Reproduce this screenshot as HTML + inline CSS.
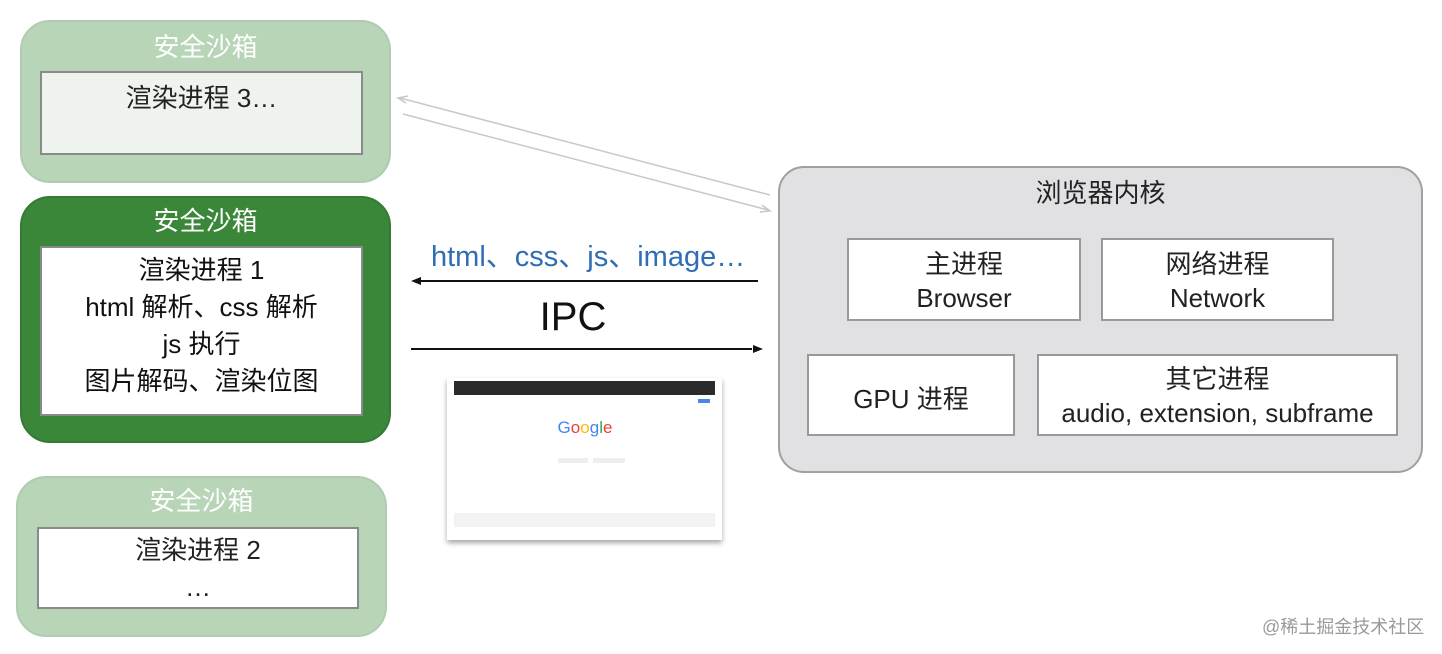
<!DOCTYPE html>
<html><head><meta charset="utf-8"><style>
body{margin:0;width:1442px;height:654px;background:#fff;position:relative;overflow:hidden;font-family:"Liberation Sans","Noto Sans CJK SC",sans-serif;}
.a{position:absolute;box-sizing:border-box;}
.t{position:absolute;text-align:center;white-space:nowrap;}
.in{background:#fff;border:2px solid #8a8a8a;}
</style></head><body>
<!-- box 3 -->
<div class="a" style="left:20px;top:20px;width:371px;height:163px;background:#b8d5b8;border-radius:30px;border:2px solid #b0ccb0"></div>
<div class="t" style="left:20px;width:371px;top:27px;font-size:26px;color:#fff">安全沙箱</div>
<div class="a in" style="left:40px;top:71px;width:323px;height:84px;background:#eef3ee"></div>
<div class="t" style="left:40px;width:323px;top:78px;font-size:26px;color:#222">渲染进程 3…</div>
<!-- box 1 -->
<div class="a" style="left:20px;top:196px;width:371px;height:247px;background:#3b873a;border-radius:30px;border:2px solid #357a34"></div>
<div class="t" style="left:20px;width:371px;top:201px;font-size:26px;color:#fff">安全沙箱</div>
<div class="a in" style="left:40px;top:246px;width:323px;height:170px"></div>
<div class="t" style="left:40px;width:323px;top:252px;font-size:26px;color:#111;line-height:37px">渲染进程 1<br>html 解析、css 解析<br>js 执行<br>图片解码、渲染位图</div>
<!-- box 2 -->
<div class="a" style="left:16px;top:476px;width:371px;height:161px;background:#b8d5b8;border-radius:30px;border:2px solid #b0ccb0"></div>
<div class="t" style="left:16px;width:371px;top:481px;font-size:26px;color:#fff">安全沙箱</div>
<div class="a in" style="left:37px;top:527px;width:322px;height:82px"></div>
<div class="t" style="left:37px;width:322px;top:532px;font-size:26px;color:#222;line-height:37px">渲染进程 2<br>…</div>
<!-- right -->
<div class="a" style="left:778px;top:166px;width:645px;height:307px;background:#e1e1e3;border:2px solid #a0a0a0;border-radius:26px"></div>
<div class="t" style="left:778px;width:645px;top:173px;font-size:26px;color:#222">浏览器内核</div>
<div class="a in" style="left:847px;top:238px;width:234px;height:83px;border-color:#999"></div>
<div class="t" style="left:847px;width:234px;top:247px;font-size:26px;line-height:34px;color:#222">主进程<br>Browser</div>
<div class="a in" style="left:1101px;top:238px;width:233px;height:83px;border-color:#999"></div>
<div class="t" style="left:1101px;width:233px;top:247px;font-size:26px;line-height:34px;color:#222">网络进程<br>Network</div>
<div class="a in" style="left:807px;top:354px;width:208px;height:82px;border-color:#999"></div>
<div class="t" style="left:807px;width:208px;top:379px;font-size:26px;color:#222">GPU 进程</div>
<div class="a in" style="left:1037px;top:354px;width:361px;height:82px;border-color:#999"></div>
<div class="t" style="left:1037px;width:361px;top:362px;font-size:26px;line-height:34px;color:#222">其它进程<br>audio, extension, subframe</div>
<!-- labels -->
<div class="t" style="left:431px;top:233px;font-size:29px;color:#2f6db5">html、css、js、image…</div>
<div class="t" style="left:513px;width:120px;top:295px;font-size:40px;color:#111">IPC</div>
<svg class="a" style="left:0;top:0" width="1442" height="654">
<line x1="770" y1="195" x2="400" y2="98" stroke="#c8c8c8" stroke-width="1.5"/>
<polyline points="408,96 398,98 406,103" fill="none" stroke="#c8c8c8" stroke-width="1.5"/>
<line x1="403" y1="114" x2="768" y2="210" stroke="#c8c8c8" stroke-width="1.5"/>
<polyline points="760,212 770,211 762,205" fill="none" stroke="#c8c8c8" stroke-width="1.5"/>
<line x1="420" y1="281" x2="758" y2="281" stroke="#111" stroke-width="2"/>
<polygon points="411,281 421,277 421,285" fill="#111"/>
<line x1="411" y1="349" x2="752" y2="349" stroke="#111" stroke-width="2"/>
<polygon points="763,349 753,345 753,353" fill="#111"/>
</svg>
<!-- screenshot -->
<div class="a" style="left:447px;top:378px;width:275px;height:162px;background:#fff;box-shadow:0 3px 5px rgba(0,0,0,0.35)"></div>
<div class="a" style="left:454px;top:381px;width:261px;height:14px;background:#2b2b2b"></div>
<div class="a" style="left:698px;top:399px;width:12px;height:4px;background:#4a84f0"></div>
<div class="t" style="left:540px;width:90px;top:418px;font-size:17px;"><span style="color:#4285f4">G</span><span style="color:#ea4335">o</span><span style="color:#fbbc05">o</span><span style="color:#4285f4">g</span><span style="color:#34a853">l</span><span style="color:#ea4335">e</span></div>
<div class="a" style="left:558px;top:458px;width:30px;height:5px;background:#eee"></div>
<div class="a" style="left:593px;top:458px;width:32px;height:5px;background:#eee"></div>
<div class="a" style="left:454px;top:513px;width:261px;height:14px;background:#f2f2f2"></div>
<div class="t" style="left:1262px;top:613px;font-size:18px;color:#999">@稀土掘金技术社区</div>
</body></html>
